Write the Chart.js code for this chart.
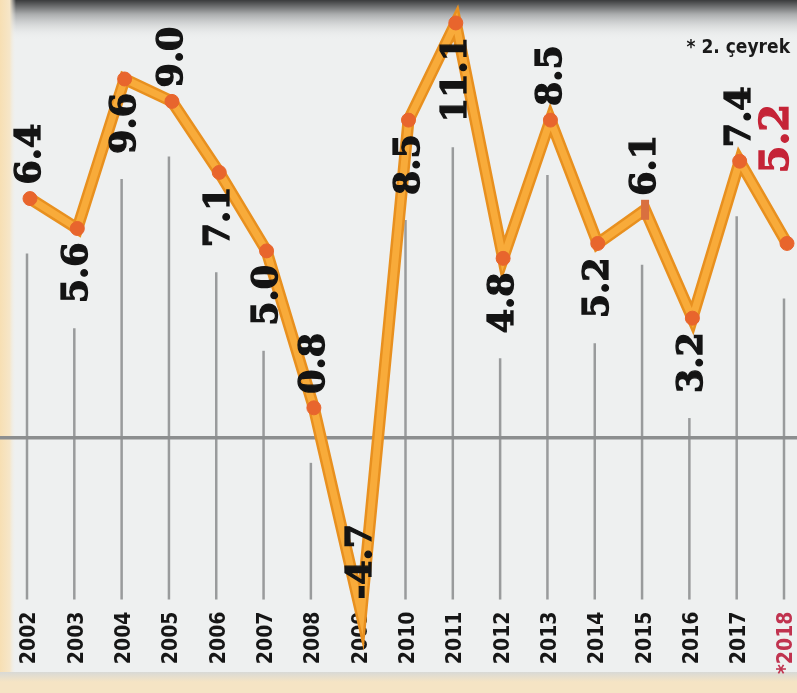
<!DOCTYPE html>
<html>
<head>
<meta charset="utf-8">
<script src="https://cdn.jsdelivr.net/npm/chart.js@4.4.1/dist/chart.umd.min.js"></script>
<style>
  html, body { margin: 0; padding: 0; background: #eef0f0; overflow: hidden; }
  #growth { display: block; }
</style>
</head>
<body>
<canvas id="growth" width="797" height="693"></canvas>
<script>
// Yearly growth figures (%), 2018 is the 2nd quarter
var years = ['2002', '2003', '2004', '2005', '2006', '2007', '2008', '2009', '2010',
             '2011', '2012', '2013', '2014', '2015', '2016', '2017', '*2018'];
var growth = [6.4, 5.6, 9.6, 9.0, 7.1, 5.0, 0.8, -4.7, 8.5, 11.1, 4.8, 8.5, 5.2, 6.1, 3.2, 7.4, 5.2];
// which side of the point the value label sits on
var labelSide = ['up', 'down', 'down', 'up', 'down', 'down', 'up', 'up', 'down',
                 'down', 'down', 'up', 'down', 'up', 'down', 'up', 'up'];
var note = '* 2. çeyrek';

var lastIdx = growth.length - 1;
var serif = "'DejaVu Serif', 'Liberation Serif', serif";
var narrow = "'Liberation Sans Narrow', 'DejaVu Sans Condensed', 'Roboto', sans-serif";

function labelFont(i) {
    return 'bold ' + (i === lastIdx ? 40 : 35) + 'px ' + serif;
}
function labelGap(i) {
    return i === lastIdx ? 70 : 14;
}

// Paper background: grey panel, dark band on top, cream edges
var backdrop = {
    id: 'backdrop',
    beforeDraw: function(chart) {
        var ctx = chart.ctx, w = chart.width, h = chart.height;
        ctx.save();
        ctx.fillStyle = '#eef0f0';
        ctx.fillRect(0, 0, w, h);
        var top = ctx.createLinearGradient(0, 0, 0, 40);
        top.addColorStop(0, '#3a3b3c');
        top.addColorStop(0.35, '#a9abac');
        top.addColorStop(1, 'rgba(238,240,240,0)');
        ctx.fillStyle = top;
        ctx.fillRect(0, 0, w, 40);
        var left = ctx.createLinearGradient(0, 0, 16, 0);
        left.addColorStop(0, '#f7dfb3');
        left.addColorStop(0.6, '#f6e6c8');
        left.addColorStop(1, 'rgba(238,240,240,0)');
        ctx.fillStyle = left;
        ctx.fillRect(0, 0, 16, h);
        var bot = ctx.createLinearGradient(0, 672, 0, 682);
        bot.addColorStop(0, '#d8d9d6');
        bot.addColorStop(1, '#f5e4c4');
        ctx.fillStyle = bot;
        ctx.fillRect(0, 672, w, h - 672);
        ctx.restore();
    }
};

// Zero line and the thin vertical stems under each year
var stems = {
    id: 'stems',
    beforeDatasetsDraw: function(chart) {
        var ctx = chart.ctx, area = chart.chartArea;
        var y0 = chart.scales.y.getPixelForValue(0);
        var meta = chart.getDatasetMeta(1);
        ctx.save();
        ctx.strokeStyle = '#999b9c';
        ctx.lineWidth = 2.5;
        meta.data.forEach(function(pt, i) {
            if (growth[i] < 0) return;
            var top;
            if (labelSide[i] === 'down') {
                ctx.font = labelFont(i);
                top = pt.y + labelGap(i) + ctx.measureText(growth[i].toFixed(1)).width + 25;
            } else {
                top = pt.y + 55;
            }
            ctx.beginPath();
            ctx.moveTo(pt.x - 3, top);
            ctx.lineTo(pt.x - 3, area.bottom);
            ctx.stroke();
        });
        ctx.strokeStyle = '#8c8e8f';
        ctx.lineWidth = 3.5;
        ctx.beginPath();
        ctx.moveTo(0, y0);
        ctx.lineTo(chart.width, y0);
        ctx.stroke();
        ctx.restore();
    }
};

// Rotated value labels and the footnote
var valueLabels = {
    id: 'valueLabels',
    afterDatasetsDraw: function(chart) {
        var ctx = chart.ctx;
        var meta = chart.getDatasetMeta(1);
        ctx.save();
        meta.data.forEach(function(pt, i) {
            ctx.save();
            ctx.translate(pt.x + (i === lastIdx ? -9 : 1), pt.y);
            ctx.rotate(-Math.PI / 2);
            ctx.font = labelFont(i);
            ctx.fillStyle = ctx.strokeStyle = i === lastIdx ? '#c52437' : '#141414';
            ctx.lineWidth = 1.3;
            ctx.textBaseline = 'middle';
            var txt = growth[i].toFixed(1);
            var gx;
            if (labelSide[i] === 'up') {
                ctx.textAlign = 'left';
                gx = labelGap(i);
            } else {
                ctx.textAlign = 'right';
                gx = -labelGap(i);
            }
            ctx.fillText(txt, gx, 0);
            ctx.strokeText(txt, gx, 0);
            ctx.restore();
        });
        ctx.font = 'bold 19px ' + narrow;
        ctx.fillStyle = '#1a1a1a';
        ctx.textAlign = 'right';
        ctx.textBaseline = 'middle';
        ctx.fillText(note, 790, 48);
        ctx.restore();
    }
};

var ctxGrowth = document.getElementById('growth');

var growthChart = new Chart(ctxGrowth, {
    type: 'line',
    data: {
        labels: years,
        datasets: [
        {
            // darker rim of the orange band
            data: growth,
            borderColor: '#e8901f',
            borderWidth: 12,
            pointRadius: 0,
            fill: false,
            tension: 0,
            clip: false,
            order: 2
        },
        {
            data: growth,
            borderColor: '#f8ab3a',
            borderWidth: 7,
            pointRadius: function(c) { return c.dataIndex === 13 ? 10 : 7; },
            pointStyle: function(c) { return c.dataIndex === 13 ? 'line' : 'circle'; },
            rotation: function(c) { return c.dataIndex === 13 ? 90 : 0; },
            pointBackgroundColor: '#e8652d',
            pointBorderColor: function(c) { return c.dataIndex === 13 ? '#d9703f' : '#e8652d'; },
            pointBorderWidth: function(c) { return c.dataIndex === 13 ? 8 : 1; },
            fill: false,
            tension: 0,
            clip: false,
            order: 1
        }]
    },
    options: {
        responsive: false,
        animation: false,
        events: [],
        layout: { padding: { left: 30, right: 10, top: 0, bottom: 15 } },
        plugins: {
            legend: { display: false },
            tooltip: { enabled: false }
        },
        scales: {
            x: {
                offset: false,
                grid: { display: false },
                border: { display: false },
                afterFit: function(scale) {
                    scale.paddingLeft = 0;
                    scale.paddingRight = 0;
                },
                ticks: {
                    autoSkip: false,
                    minRotation: 90,
                    maxRotation: 90,
                    padding: 4,
                    color: function(c) { return c.index === lastIdx ? '#c0334f' : '#161616'; },
                    font: { family: narrow, size: 21, weight: 'bold' }
                }
            },
            y: {
                display: false,
                min: -4.33,
                max: 11.5
            }
        }
    },
    plugins: [backdrop, stems, valueLabels]
});
</script>
</body>
</html>
